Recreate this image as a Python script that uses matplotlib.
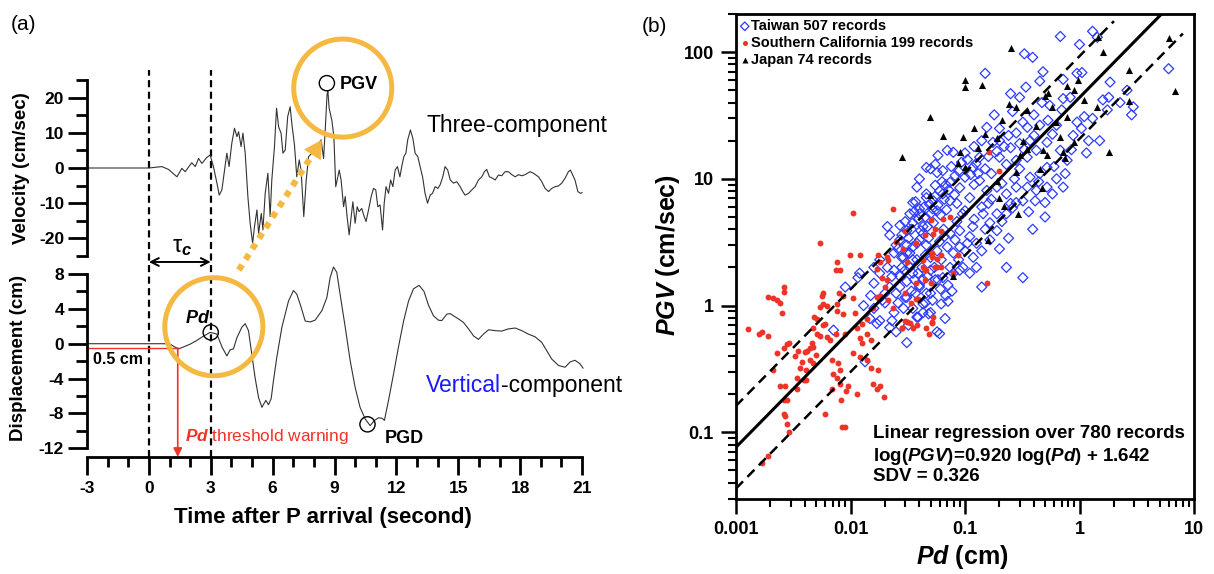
import numpy as np
import matplotlib.pyplot as plt
from matplotlib.ticker import MultipleLocator

plt.rcParams['font.family'] = ['Liberation Sans', 'DejaVu Sans']
plt.rcParams['font.weight'] = 'bold'
plt.rcParams['axes.unicode_minus'] = False
plt.rcParams['mathtext.fontset'] = 'custom'
plt.rcParams['mathtext.rm'] = 'Liberation Sans:bold'
plt.rcParams['mathtext.bf'] = 'Liberation Sans:bold'
plt.rcParams['mathtext.it'] = 'Liberation Sans:italic:bold'

# ---- panel (a): waveforms (time s, value)
velocity = [(-3, 0), (0, 0), (0.63, 0.4), (0.95, -0.4), (1.36, -2.5), (1.60, -0.1), (1.76, -1.05),
            (2.08, 1.5), (2.25, 0.4), (2.41, 2.7), (2.57, 1.3), (2.81, 3.0), (2.97, 3.7), (3.13, 0.4),
            (3.30, -4.3), (3.41, -7.7), (3.54, -6.2), (3.67, -0.6), (3.78, 4.2), (3.89, 0.4), (4.02, 7.0),
            (4.15, 11.3), (4.27, 8.9), (4.35, 10.3), (4.47, 6.1), (4.56, 9.9), (4.67, 4.2), (4.80, -8.1),
            (4.91, -15.7), (5.03, -21.4), (5.12, -16.7), (5.24, -11.9), (5.32, -18.6), (5.45, -12.9),
            (5.53, -17.6), (5.64, -7.2), (5.77, -1.5), (5.88, -13.8), (5.96, -3.4), (6.09, 6.1),
            (6.19, 17.0), (6.29, 11.7), (6.41, 9.9), (6.50, 4.2), (6.61, 5.1), (6.73, 14.6), (6.85, 17.4),
            (6.93, 12.7), (7.06, 6.5), (7.17, -2.5), (7.29, 2.3), (7.38, -0.6), (7.51, -13.8), (7.63, -3.4),
            (7.74, 3.2), (7.90, 4.2), (8.06, 6.5), (8.23, 7.0), (8.35, 8.0), (8.47, 2.7), (8.55, 10.8),
            (8.64, 21.0), (8.68, 21.8), (8.74, 17.0), (8.87, 13.6), (8.97, 8.9), (9.06, -5.3), (9.23, -0.6),
            (9.32, -3.4), (9.44, -11.0), (9.52, -8.1), (9.61, -13.8), (9.71, -19.0), (9.81, -13.8),
            (9.89, -9.6), (10.00, -15.7), (10.10, -11.0), (10.19, -12.4), (10.32, -11.5), (10.44, -13.8),
            (10.53, -15.2), (10.65, -11.9), (10.78, -8.1), (10.89, -5.8), (11.00, -6.2), (11.10, -11.0),
            (11.21, -10.5), (11.33, -17.6), (11.41, -10.0), (11.50, -5.3), (11.62, -7.2), (11.72, -3.4),
            (11.83, -5.3), (11.94, -0.6), (12.05, 0.4), (12.17, -2.5), (12.26, 0.4), (12.36, 3.2),
            (12.46, 4.2), (12.55, 8.0), (12.68, 10.8), (12.80, 8.4), (12.91, 4.2), (13.04, 3.2),
            (13.15, 0.4), (13.27, -2.5), (13.39, -7.2), (13.51, -10.0), (13.64, -7.7), (13.75, -7.2),
            (13.88, -5.3), (14.01, -5.8), (14.12, -4.8), (14.25, -2.5), (14.36, 0.4), (14.49, -0.6),
            (14.61, -3.4), (14.77, -4.3), (14.93, -3.9), (15.09, -5.3), (15.22, -6.7), (15.33, -7.7),
            (15.50, -7.2), (15.66, -6.2), (15.82, -5.3), (15.98, -3.4), (16.14, -2.5), (16.27, -1.05),
            (16.38, -0.4), (16.51, -2.5), (16.66, -2.9), (16.79, -3.4), (16.95, -2.0), (17.11, -2.2),
            (17.27, -1.05), (17.43, -1.05), (17.60, -1.9), (17.76, -2.5), (17.92, -1.9), (18.08, -2.2),
            (18.24, -1.9), (18.48, -1.05), (18.65, -1.5), (18.89, -2.5), (19.05, -3.9), (19.21, -5.8),
            (19.38, -6.7), (19.53, -5.8), (19.70, -5.3), (19.86, -5.1), (20.02, -4.3), (20.18, -2.9),
            (20.34, -1.05), (20.44, -0.6), (20.54, -1.9), (20.66, -3.4), (20.80, -6.7), (20.93, -7.2),
            (21.0, -7.0)]

displacement = [(-3, 0), (1.0, 0), (1.2, -0.3), (1.44, -0.6), (1.7, -0.35), (2.0, -0.05), (2.3, 0.34),
                (2.6, 0.8), (2.97, 1.3), (3.15, 1.2), (3.30, 1.1), (3.55, -0.4), (3.78, -1.4), (3.94, -0.7),
                (4.1, -0.6), (4.27, 0.7), (4.51, 1.9), (4.67, 2.3), (4.83, 1.5), (4.99, -1.2), (5.15, -3.9),
                (5.32, -6.2), (5.48, -7.3), (5.67, -6.5), (5.80, -7.0), (5.93, -6.3), (6.04, -4.25),
                (6.20, -1.6), (6.45, 1.9), (6.77, 4.9), (7.01, 6.1), (7.17, 5.7), (7.38, 4.2), (7.58, 2.6),
                (7.82, 2.5), (8.06, 2.7), (8.39, 3.8), (8.63, 5.3), (8.79, 7.6), (8.95, 8.8), (9.11, 8.2),
                (9.27, 5.7), (9.52, 1.9), (9.76, -1.95), (10.0, -5.0), (10.24, -7.3), (10.49, -8.65),
                (10.73, -9.4), (10.94, -8.8), (11.14, -8.5), (11.30, -8.55), (11.42, -8.8), (11.62, -6.5),
                (11.86, -3.5), (12.10, -0.4), (12.35, 2.6), (12.59, 4.9), (12.83, 6.3), (13.10, 6.7),
                (13.34, 6.0), (13.56, 4.4), (13.80, 3.2), (14.04, 2.7), (14.20, 2.65), (14.45, 3.4),
                (14.61, 3.45), (14.77, 3.2), (15.01, 2.85), (15.25, 2.45), (15.50, 1.7), (15.74, 0.9),
                (15.98, 0.5), (16.22, 1.1), (16.47, 1.6), (16.79, 1.5), (17.11, 1.45), (17.43, 1.7),
                (17.76, 1.8), (18.08, 1.5), (18.40, 1.1), (18.72, 0.8), (19.05, 0.15), (19.29, -0.8),
                (19.53, -1.75), (19.86, -2.5), (20.18, -2.7), (20.42, -2.1), (20.66, -1.9), (20.90, -2.3),
                (21.05, -2.8)]

tau_c = 3.0
pd_threshold = -0.5
t_warning = 1.4
pgv_point = (8.63, 24.1)
pd_point = (3.0, 1.3)
pgd_point = (10.6, -9.25)

# ---- panel (b): (Pd cm, PGV cm/s)
taiwan = [(0.0071, 0.64), (0.009, 1.4), (0.0116, 1.66), (0.012, 1.8), (0.0134, 0.36), (0.0148, 0.79),
          (0.016, 1.5), (0.017, 0.72), (0.018, 0.76), (0.019, 1.1), (0.020, 1.05), (0.022, 0.67),
          (0.023, 0.76), (0.024, 0.88), (0.025, 0.62), (0.029, 0.95), (0.031, 0.51), (0.032, 0.70),
          (0.035, 0.95), (0.038, 0.81), (0.043, 0.88), (0.048, 0.86), (0.057, 0.62), (0.018, 1.8),
          (0.021, 2.0), (0.023, 1.7), (0.027, 1.4), (0.031, 1.55), (0.035, 1.8), (0.040, 1.4),
          (0.046, 1.25), (0.052, 1.1), (0.058, 1.6), (0.025, 1.25), (0.031, 1.16), (0.037, 1.25),
          (0.043, 1.6), (0.050, 1.9), (0.028, 2.0), (0.020, 1.25),
          (0.037, 6.6), (0.021, 4.2), (0.027, 4.3), (0.033, 5.3), (0.040, 5.8), (0.046, 7.1),
          (0.055, 8.9), (0.050, 12), (0.055, 13), (0.058, 15.3), (0.045, 5.0), (0.050, 5.3),
          (0.053, 4.5), (0.057, 5.6), (0.016, 2.0), (0.018, 2.3), (0.024, 2.6), (0.026, 2.8),
          (0.029, 2.4), (0.031, 3.0), (0.035, 2.9), (0.040, 3.3), (0.043, 3.7), (0.046, 3.0),
          (0.038, 2.3), (0.042, 2.0), (0.050, 2.4), (0.057, 2.7), (0.054, 2.0), (0.033, 2.0),
          (0.68, 133), (1.3, 146), (1.0, 115), (1.43, 131), (0.33, 97), (0.39, 91), (0.15, 68),
          (0.48, 70), (0.95, 68), (1.05, 69), (0.45, 59), (0.72, 61), (1.85, 58), (0.34, 53), (6.0, 74),
          (0.25, 47), (0.30, 44), (0.72, 43), (0.83, 44), (1.6, 42), (1.8, 44), (2.6, 50), (2.26, 40),
          (2.95, 37), (2.85, 32), (1.75, 35), (1.1, 31), (1.3, 30), (0.47, 40), (0.26, 34), (0.18, 32),
          (0.35, 25.5), (0.45, 26.5), (0.53, 29), (0.63, 26.5), (0.88, 22), (1.04, 25), (1.5, 20),
          (1.15, 16), (0.155, 25.5), (0.14, 20), (0.1, 16), (0.079, 16.2), (0.07, 16.8), (0.046, 12.3),
          (0.040, 10), (0.035, 6.5), (0.038, 8.6), (0.057, 11.2), (0.064, 11.6), (0.074, 9.4),
          (0.082, 10.6), (0.10, 10.3), (0.117, 12.3), (0.134, 14.8), (0.175, 19.4), (0.20, 20),
          (0.25, 17.6), (0.28, 23), (0.20, 14.8), (0.23, 13), (0.28, 14), (0.35, 14.8), (0.37, 20),
          (0.42, 16.8), (0.52, 19.4), (0.58, 22.5), (0.68, 16.8), (0.78, 14), (0.75, 11), (0.63, 10),
          (0.52, 12.3), (0.45, 11), (0.37, 10.3), (0.30, 12), (0.28, 8.6), (0.35, 8.6), (0.42, 8.1),
          (0.50, 6.5), (0.50, 5.0), (0.39, 4.0), (0.24, 3.4), (0.20, 2.8), (0.23, 2.0), (0.32, 1.66),
          (0.126, 2.0), (0.14, 2.7), (0.165, 3.3), (0.19, 3.9), (0.165, 4.5), (0.144, 5.3), (0.19, 5.3),
          (0.23, 5.3), (0.26, 5.9), (0.32, 6.7), (0.23, 7.6), (0.19, 8.6), (0.155, 8.1), (0.134, 9.7),
          (0.11, 7.1), (0.10, 5.6), (0.085, 6.4), (0.074, 6.7), (0.064, 7.6), (0.053, 6.7),
          (0.046, 7.6), (0.040, 5.3), (0.043, 4.2), (0.035, 4.5), (0.031, 3.9), (0.074, 3.7),
          (0.09, 3.9), (0.117, 4.2), (0.126, 3.1), (0.10, 2.7), (0.09, 2.9), (0.079, 2.6), (0.074, 2.0),
          (0.096, 2.0), (0.11, 1.8), (0.035, 2.3), (0.031, 2.6), (0.027, 3.3), (0.52, 8.6), (0.58, 7.6),
          (0.72, 8.6), (0.41, 6.7), (0.25, 6.4), (0.16, 6.4),
          (0.14, 1.4), (0.071, 1.45), (0.077, 1.3), (0.068, 1.2), (0.062, 1.03), (0.071, 1.08),
          (0.05, 0.88), (0.067, 0.79), (0.039, 0.81), (0.06, 0.60), (0.043, 1.03), (0.030, 1.16),
          (0.034, 1.3), (0.040, 1.45), (0.05, 1.25), (0.055, 1.6), (0.064, 1.66), (0.079, 1.8),
          (0.09, 1.9), (0.036, 1.6), (0.027, 1.7),
          (0.06, 8.0), (0.068, 9.0), (0.09, 8.5), (0.12, 9.0), (0.13, 11), (0.15, 12), (0.17, 11),
          (0.16, 15), (0.19, 16.5), (0.22, 18), (0.24, 22), (0.3, 19), (0.33, 17), (0.4, 22), (0.27, 10),
          (0.21, 9.2), (0.17, 6.9), (0.14, 6.0), (0.12, 4.8), (0.085, 4.6), (0.095, 5.3), (0.065, 4.0),
          (0.06, 3.2), (0.07, 2.9), (0.11, 3.5), (0.15, 4.0), (0.21, 4.6), (0.28, 6.5), (0.36, 5.5),
          (0.44, 9.5), (0.6, 12.5), (0.85, 17), (1.2, 20), (0.95, 28), (0.7, 35), (0.55, 38), (0.4, 32),
          (0.32, 28), (0.2, 25), (0.12, 18),
          (0.022, 3.6), (0.025, 3.0), (0.028, 3.6), (0.030, 4.6), (0.032, 3.4), (0.034, 4.0),
          (0.036, 5.5), (0.039, 4.8), (0.041, 3.9), (0.044, 6.0), (0.047, 4.2), (0.049, 6.3),
          (0.052, 5.8), (0.055, 7.3), (0.058, 6.2), (0.061, 5.2), (0.063, 9.5), (0.066, 6.9),
          (0.069, 5.7), (0.072, 8.2), (0.076, 12.5), (0.081, 7.5), (0.088, 11.5), (0.093, 13.5),
          (0.105, 14.2), (0.112, 10.8), (0.125, 13.2), (0.028, 2.4), (0.033, 2.6), (0.038, 3.1),
          (0.045, 2.5), (0.048, 3.4), (0.062, 2.3), (0.066, 3.5), (0.082, 3.3), (0.088, 2.3),
          (0.105, 3.1), (0.118, 2.4), (0.024, 1.9), (0.030, 1.9), (0.039, 1.8), (0.047, 1.7),
          (0.061, 1.35), (0.045, 1.05), (0.026, 1.05), (0.022, 1.4), (0.015, 1.2), (0.013, 1.0),
          (0.016, 0.95)]

socal = [(0.00127, 0.65), (0.0016, 0.60), (0.0017, 0.62), (0.0019, 0.58), (0.0021, 0.31), (0.0019, 1.16),
         (0.0021, 1.14), (0.0023, 1.10), (0.0024, 1.05), (0.0025, 0.87), (0.0026, 1.40), (0.0026, 1.28),
         (0.0023, 0.42), (0.0026, 0.46), (0.0028, 0.50), (0.0029, 0.51), (0.0024, 0.23), (0.0027, 0.23),
         (0.0026, 0.18), (0.0028, 0.18), (0.0026, 0.14), (0.0027, 0.135), (0.0028, 0.116), (0.0029, 0.10),
         (0.0019, 0.065), (0.0017, 0.057),
         (0.0033, 0.40), (0.0035, 0.44), (0.0040, 0.43), (0.0042, 0.44), (0.0044, 0.46), (0.0038, 0.36),
         (0.0036, 0.32), (0.0034, 0.27), (0.0039, 0.26), (0.0041, 0.26), (0.0034, 0.22), (0.0046, 0.51),
         (0.0047, 0.67), (0.0048, 0.81), (0.0051, 0.79), (0.0054, 0.97), (0.0056, 1.2), (0.0057, 1.25),
         (0.0058, 1.03), (0.0062, 1.0), (0.0060, 0.72), (0.0058, 0.70), (0.0062, 0.56), (0.0066, 0.53),
         (0.0051, 0.60), (0.0054, 0.58), (0.0047, 0.47), (0.0050, 0.41), (0.0044, 0.37), (0.0041, 0.31),
         (0.0047, 0.35), (0.0060, 0.14), (0.0069, 0.22), (0.0071, 0.29), (0.0076, 0.27), (0.0081, 0.31),
         (0.0078, 0.35), (0.0069, 0.37), (0.0081, 0.24), (0.0082, 0.18), (0.0092, 0.21), (0.0095, 0.23),
         (0.0084, 0.11), (0.0090, 0.11), (0.0076, 1.03), (0.0079, 1.25), (0.0086, 1.2), (0.0076, 0.91),
         (0.0086, 0.86), (0.0074, 1.9), (0.0081, 1.92), (0.0074, 0.60), (0.0090, 0.60), (0.0105, 1.14),
         (0.0109, 0.87), (0.0114, 0.66), (0.0121, 0.55), (0.0125, 0.72), (0.0139, 0.79), (0.0140, 0.60),
         (0.0152, 0.53), (0.0125, 0.51), (0.0106, 0.42), (0.0121, 0.39), (0.0139, 0.37), (0.0152, 0.32),
         (0.0175, 0.31), (0.0158, 0.24), (0.0180, 0.23), (0.0198, 0.19), (0.0170, 0.22), (0.0114, 0.20),
         (0.0158, 0.95), (0.0171, 1.16), (0.0180, 1.2), (0.0170, 1.95), (0.0214, 1.1), (0.0236, 0.95),
         (0.0281, 0.67), (0.035, 0.67), (0.046, 0.67), (0.048, 0.60), (0.019, 1.65), (0.021, 1.6),
         (0.020, 1.4), (0.031, 0.74), (0.038, 0.70), (0.051, 0.74), (0.053, 0.81), (0.030, 1.25),
         (0.037, 1.5), (0.046, 1.9), (0.057, 2.0),
         (0.0105, 5.4), (0.0236, 5.8), (0.0054, 3.1), (0.0076, 2.2), (0.0099, 2.5), (0.0121, 2.5),
         (0.0175, 2.5), (0.021, 2.4), (0.025, 3.2), (0.030, 3.9), (0.018, 2.2), (0.0214, 2.3),
         (0.031, 2.2), (0.043, 2.3), (0.050, 4.7), (0.053, 3.7), (0.052, 2.6), (0.045, 1.9),
         (0.162, 16.2), (0.20, 11.6), (0.064, 4.8), (0.074, 5.0), (0.055, 4.0), (0.062, 3.9),
         (0.045, 3.6), (0.037, 3.1), (0.029, 2.8), (0.052, 2.4), (0.057, 2.35), (0.062, 2.5),
         (0.087, 2.5), (0.043, 2.0), (0.055, 2.0), (0.062, 2.0), (0.079, 1.8),
         (0.155, 1.52), (0.045, 1.6), (0.050, 1.5), (0.034, 1.04), (0.037, 1.13), (0.039, 1.13),
         (0.033, 0.73), (0.052, 0.73), (0.028, 0.66), (0.030, 0.76)]

japan = [(0.049, 31), (0.028, 14.8), (0.049, 7.5), (0.25, 107), (0.10, 60), (0.10, 53), (0.14, 55),
         (6.0, 130), (1.6, 100), (1.45, 131), (2.7, 72), (0.97, 60), (0.9, 50), (0.78, 54), (0.53, 48),
         (0.50, 45), (6.8, 49), (2.7, 41), (1.1, 42), (1.43, 37), (0.57, 37), (0.35, 35), (0.28, 37),
         (0.24, 39), (0.78, 31), (0.21, 29), (0.12, 25), (0.096, 21.5), (0.064, 21.7), (0.15, 22.6),
         (0.13, 17.6), (0.09, 16.2), (0.087, 13.4), (0.10, 12.3), (0.32, 20), (0.35, 17.3), (0.48, 16.8),
         (0.52, 15.5), (0.68, 21.2), (0.72, 16.2), (0.75, 14.5), (0.9, 19.4), (1.8, 16.2), (0.28, 11.3),
         (0.19, 9.7), (0.45, 12), (0.47, 8.4), (0.20, 7.1), (0.29, 5.3), (0.22, 6.1), (0.16, 3.3),
         (0.079, 1.7), (0.42, 26), (0.62, 28), (0.19, 21), (0.3, 15.5)]

slope, intercept, sdv = 0.920, 1.642, 0.326

W, H = 1214, 574
orange = '#f5b942'
red = '#ee3426'
blue = '#2b3bff'


def rect(x0, y0, x1, y1):
    return [x0 / W, 1 - y1 / H, (x1 - x0) / W, (y1 - y0) / H]


fig = plt.figure(figsize=(W / 100, H / 100), dpi=100)

axo = fig.add_axes(rect(87, 70, 582, 457))
axv = fig.add_axes(rect(87, 80, 582, 256))
axd = fig.add_axes(rect(87, 274, 582, 457))
for a in (axo, axv, axd):
    a.set_facecolor('none')
    a.set_xlim(-3, 21)

axo.set_ylim(0, 1)
axo.axis('off')
for x in (0, tau_c):
    axo.axvline(x, color='black', lw=1.6, dashes=(3.2, 2))

tv, vv = np.array(velocity).T
td, dd = np.array(displacement).T
axv.plot(tv, vv, color='#333333', lw=0.8, clip_on=False)
axd.plot(td, dd, color='#333333', lw=0.8, clip_on=False)

# velocity axis
axv.set_ylim(-25, 25)
for s in ('top', 'right', 'bottom'):
    axv.spines[s].set_visible(False)
axv.spines['left'].set_linewidth(2)
axv.set_yticks([-20, -10, 0, 10, 20])
axv.yaxis.set_minor_locator(MultipleLocator(5))
axv.tick_params(axis='x', bottom=False, labelbottom=False)
axv.tick_params(axis='y', which='major', length=13.5, width=2, labelsize=12.5, pad=3)
axv.tick_params(axis='y', which='minor', length=8, width=2)

# displacement axis
axd.set_ylim(-13, 8)
for s in ('top', 'right'):
    axd.spines[s].set_visible(False)
axd.spines['left'].set_linewidth(2)
axd.spines['left'].set_bounds(-12, 8)
axd.spines['bottom'].set_linewidth(2)
axd.set_yticks(np.arange(-12, 9, 4))
axd.yaxis.set_minor_locator(MultipleLocator(2))
axd.set_xticks(np.arange(-3, 22, 3))
axd.xaxis.set_minor_locator(MultipleLocator(1))
axd.tick_params(which='major', length=13, width=2, labelsize=12.5, pad=4)
axd.tick_params(which='minor', length=7, width=2)
axd.tick_params(axis='y', which='major', length=13.5, pad=3)
axd.tick_params(axis='y', which='minor', length=8)

# annotations panel (a)
axv.scatter([9.40], [22.7], s=4985, facecolors='none', edgecolors=orange, linewidths=3.6, clip_on=False, zorder=5)
axd.scatter([3.15], [1.95], s=4985, facecolors='none', edgecolors=orange, linewidths=3.6, clip_on=False, zorder=5)
axv.scatter(*pgv_point, s=120, facecolors='none', edgecolors='black', linewidths=1.0, clip_on=False, zorder=6)
axd.scatter(*pd_point, s=120, facecolors='none', edgecolors='black', linewidths=1.0, clip_on=False, zorder=6)
axd.scatter(*pgd_point, s=120, facecolors='none', edgecolors='black', linewidths=1.0, clip_on=False, zorder=6)

axv.text(9.26, 23.6, 'PGV', fontsize=13, va='center', ha='left')
axd.text(11.44, -10.9, 'PGD', fontsize=13, va='center', ha='left')
axd.text(1.75, 2.9, '$Pd$', fontsize=13, va='center', ha='left')
axd.text(-2.7, -1.84, '0.5 cm', fontsize=11.5, va='center', ha='left')

axv.text(13.45, 10.3, 'Three-component', fontsize=16.5, fontweight='normal', va='baseline', ha='left')
t1 = axd.text(13.45, -5.5, 'Vertical', fontsize=16.5, fontweight='normal', color='#1a1aff', va='baseline', ha='left')
axd.annotate('-component', xy=(1, 0), xycoords=t1, fontsize=16.5, fontweight='normal', va='bottom', ha='left')

# threshold and warning
axd.plot([-3, t_warning], [pd_threshold, pd_threshold], color=red, lw=1.0, clip_on=False)
axd.annotate('', xy=(t_warning, -13), xytext=(t_warning, pd_threshold),
             arrowprops=dict(arrowstyle='-|>', color=red, lw=1.2, mutation_scale=13, shrinkA=0, shrinkB=0),
             annotation_clip=False)
axd.text(1.75, -10.6, '$Pd$ threshold warning', color=red, fontsize=12.4, fontweight='normal', va='center', ha='left')

# tau_c
axv.annotate('', xy=(0, -26.7), xytext=(tau_c, -26.7),
             arrowprops=dict(arrowstyle='<->', color='black', lw=1.4, mutation_scale=14, shrinkA=0, shrinkB=0),
             annotation_clip=False)
axv.text(1.6, -22.4, 'τ$_c$', fontsize=17, fontweight='normal', ha='center', va='center')

# orange dotted arrow from Pd to PGV
start = np.array([4.36, -29.0])
end = np.array([8.39, 8.0])
shaft = start + 0.86 * (end - start)
axv.plot([start[0], shaft[0]], [start[1], shaft[1]], color=orange, lw=4.5, ls=(0, (1, 1)), clip_on=False, zorder=4)
axv.annotate('', xy=end, xytext=start,
             arrowprops=dict(arrowstyle='-|>,head_length=0.8,head_width=0.45', color=orange, lw=0,
                             mutation_scale=16, shrinkA=0, shrinkB=0),
             annotation_clip=False, zorder=4)

fig.text(22 / W, 1 - 168 / H, 'Velocity (cm/sec)', rotation=90, fontsize=13.5, ha='center', va='center')
fig.text(19 / W, 1 - 358 / H, 'Displacement (cm)', rotation=90, fontsize=13.5, ha='center', va='center')
fig.text(323 / W, 1 - 517 / H, 'Time after P arrival (second)', fontsize=16, ha='center', va='center')
fig.text(24 / W, 1 - 25 / H, '(a)', fontsize=15, fontweight='normal', ha='center', va='center')
fig.text(654 / W, 1 - 26 / H, '(b)', fontsize=15, fontweight='normal', ha='center', va='center')

# ---- panel (b)
axb = fig.add_axes(rect(736, 14, 1194, 498.5))
axb.set_xscale('log')
axb.set_yscale('log')
axb.set_xlim(1e-3, 10)
axb.set_ylim(0.03, 200)

tw = np.array(taiwan).T
sc = np.array(socal).T
jp = np.array(japan).T
axb.scatter(tw[0], tw[1], marker='D', s=26, facecolors='none', edgecolors=blue, linewidths=0.9,
            label='Taiwan 507 records', zorder=2)
axb.scatter(sc[0], sc[1], marker='o', s=18, color=red, linewidths=0,
            label='Southern California 199 records', zorder=3)
axb.scatter(jp[0], jp[1], marker='^', s=26, color='black', linewidths=0,
            label='Japan 74 records', zorder=4)

xs = np.array([1e-3, 8])
axb.plot(xs, 10 ** (slope * np.log10(xs) + intercept), color='black', lw=2.2, zorder=5)
xs_up = np.array([1e-3, 2])
axb.plot(xs_up, 10 ** (slope * np.log10(xs_up) + intercept + sdv), color='black', lw=1.8,
         dashes=(4, 2.5), zorder=5)
axb.plot(xs, 10 ** (slope * np.log10(xs) + intercept - sdv), color='black', lw=1.8,
         dashes=(4, 2.5), zorder=5)

for s in axb.spines.values():
    s.set_linewidth(2)
axb.set_xticks([0.001, 0.01, 0.1, 1, 10], labels=['0.001', '0.01', '0.1', '1', '10'])
axb.set_yticks([0.1, 1, 10, 100], labels=['0.1', '1', '10', '100'])
axb.tick_params(which='major', length=11, width=1.8, labelsize=13, pad=5)
axb.tick_params(which='minor', length=6, width=1.5)

axb.legend(loc='upper left', bbox_to_anchor=(0, 1), frameon=False, prop={'weight': 'bold', 'size': 10.5},
           handlelength=0.5, handletextpad=0.15, labelspacing=0.2, borderpad=0.35, borderaxespad=0,
           scatterpoints=1, markerscale=0.85)

axb.text(0.299, 0.135, 'Linear regression over 780 records', transform=axb.transAxes, fontsize=13.5, va='center')
axb.text(0.299, 0.086, 'log($PGV$)=0.920 log($Pd$) + 1.642', transform=axb.transAxes, fontsize=13.5, va='center')
axb.text(0.299, 0.045, 'SDV = 0.326', transform=axb.transAxes, fontsize=13.5, va='center')

fig.text(668 / W, 1 - 255 / H, '$PGV$ (cm/sec)', rotation=90, fontsize=18, ha='center', va='center')
fig.text(962 / W, 1 - 557 / H, '$Pd$ (cm)', fontsize=18, ha='center', va='center')

fig.savefig('out.png', dpi=100)
